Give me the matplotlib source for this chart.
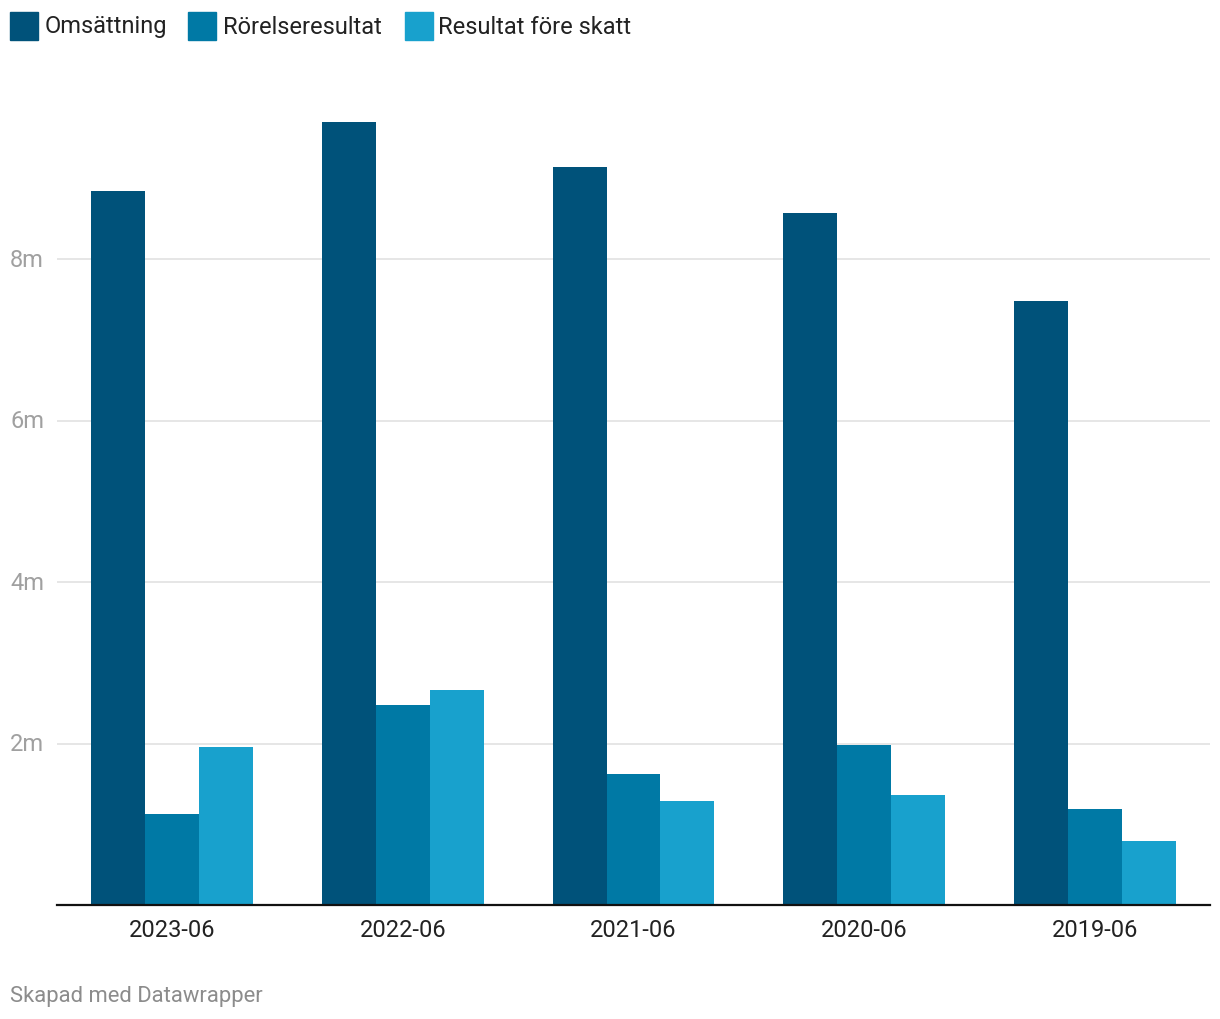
import numpy as np
import matplotlib.pyplot as plt
from matplotlib.patches import Rectangle
from matplotlib.transforms import blended_transform_factory

plt.rcParams['font.family'] = ['Roboto', 'DejaVu Sans']

# data (millions)
periods = ['2023-06', '2022-06', '2021-06', '2020-06', '2019-06']
series = ['Omsättning', 'Rörelseresultat', 'Resultat före skatt']
omsattning = [8.84, 9.70, 9.14, 8.57, 7.48]
rorelse = [1.13, 2.48, 1.62, 1.99, 1.19]
resultat = [1.96, 2.67, 1.29, 1.37, 0.79]
yticks = [2, 4, 6, 8]
colors = ['#00527a', '#0079a5', '#18a1cd']

W, H = 1220, 1020
fig = plt.figure(figsize=(W / 100, H / 100), dpi=100)

def fx(px):
    return px / W

def fy(py):
    return 1 - py / H

# axes: x 57..1210 px, y 0 at 906 px, 10m at 98.5 px
ax = fig.add_axes([fx(57), fy(906.3), fx(1210) - fx(57), fy(98.5) - fy(906.3)])
ax.set_xlim(-0.5, 4.5)
ax.set_ylim(0, 10)

x = np.arange(len(periods))
w = 0.234
for i, vals in enumerate([omsattning, rorelse, resultat]):
    ax.bar(x + (i - 1) * w, vals, width=w, color=colors[i], zorder=3, linewidth=0)

for t in yticks:
    ax.axhline(t, color='#e2e2e2', linewidth=1.2, zorder=1)

tr = blended_transform_factory(fig.transFigure, ax.transData)
for t in yticks:
    ax.text(fx(10), t, f'{t}m', transform=tr, ha='left', va='center',
            fontsize=17, color='#a0a0a0')

for s in ['top', 'right', 'left']:
    ax.spines[s].set_visible(False)
ax.spines['bottom'].set_color('#111111')
ax.spines['bottom'].set_linewidth(1.6)
ax.spines['bottom'].set_zorder(4)
ax.set_yticks([])
ax.set_xticks(x)
ax.set_xticklabels(periods, fontsize=17, color='#222222')
ax.tick_params(axis='x', length=0, pad=9)

# legend
leg_sq = [10, 188, 405]
leg_tx = [45, 223, 438]
for i, name in enumerate(series):
    fig.patches.append(Rectangle((fx(leg_sq[i]), fy(41)), fx(28), 28 / H,
                                 transform=fig.transFigure, color=colors[i]))
    fig.text(fx(leg_tx[i]), fy(27), name, ha='left', va='center',
             fontsize=17, color='#222222')

fig.text(fx(10), fy(997), 'Skapad med Datawrapper', ha='left', va='center',
         fontsize=15.8, color='#8c8c8c')

fig.savefig('out.png', dpi=100)
